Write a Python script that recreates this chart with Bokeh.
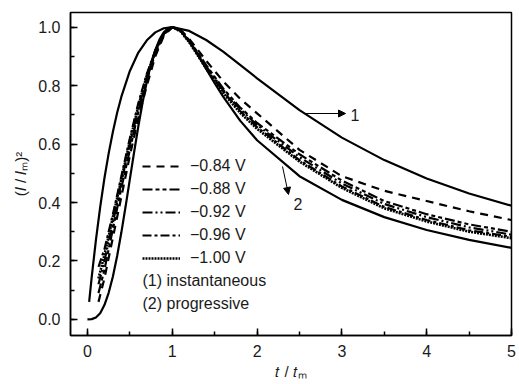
from bokeh.plotting import figure
from bokeh.models import (Range1d, SingleIntervalTicker, Label, Legend, LegendItem,
                          Arrow, NormalHead, CustomJSTickFormatter)
from bokeh.embed import file_html
from bokeh.resources import INLINE

# ---------------- data ----------------
t_inst = [0.02, 0.05, 0.1, 0.15, 0.2, 0.25, 0.3, 0.35, 0.4, 0.5, 0.6, 0.7, 0.8, 0.9, 1.0,
          1.2, 1.4, 1.6, 1.8, 2.0, 2.5, 3.0, 3.5, 4.0, 4.5, 5.0]
y_inst = [0.060, 0.145, 0.272, 0.384, 0.483, 0.568, 0.642, 0.707, 0.762, 0.850, 0.913, 0.955,
          0.982, 0.996, 1.000, 0.987, 0.956, 0.916, 0.871, 0.825, 0.716, 0.622, 0.545, 0.482,
          0.431, 0.389]

t_prog = [0.0, 0.05, 0.1, 0.15, 0.2, 0.25, 0.3, 0.35, 0.4, 0.45, 0.5, 0.55, 0.6, 0.65, 0.7,
          0.75, 0.8, 0.85, 0.9, 0.95, 1.0, 1.05, 1.1, 1.2, 1.3, 1.4, 1.5, 1.6, 1.8, 2.0, 2.5,
          3.0, 3.5, 4.0, 4.5, 5.0]
y_prog = [0.0, 0.001, 0.0065, 0.021, 0.049, 0.091, 0.147, 0.217, 0.298, 0.387, 0.480, 0.572,
          0.661, 0.742, 0.814, 0.874, 0.922, 0.958, 0.982, 0.996, 1.000, 0.996, 0.986, 0.952,
          0.907, 0.857, 0.808, 0.762, 0.680, 0.613, 0.490, 0.409, 0.350, 0.306, 0.272, 0.245]

t_exp = [0.13, 0.2, 0.3, 0.4, 0.5, 0.6, 0.7, 0.8, 0.9, 1.0, 1.1, 1.2, 1.4, 1.6, 1.8, 2.0,
         2.5, 3.0, 3.5, 4.0, 4.5, 5.0]
y_084 = [0.06, 0.14, 0.28, 0.42, 0.56, 0.69, 0.80, 0.90, 0.97, 1.0, 0.990, 0.960, 0.885,
         0.815, 0.755, 0.705, 0.580, 0.490, 0.440, 0.405, 0.370, 0.340]
y_088 = [0.09, 0.17, 0.31, 0.45, 0.58, 0.71, 0.82, 0.91, 0.975, 1.0, 0.990, 0.955, 0.870,
         0.790, 0.725, 0.672, 0.565, 0.475, 0.405, 0.360, 0.325, 0.300]
y_092 = [0.12, 0.20, 0.33, 0.47, 0.60, 0.72, 0.83, 0.915, 0.977, 1.0, 0.988, 0.952, 0.866,
         0.785, 0.720, 0.665, 0.555, 0.465, 0.395, 0.350, 0.315, 0.290]
y_096 = [0.18, 0.24, 0.36, 0.49, 0.62, 0.74, 0.84, 0.920, 0.980, 1.0, 0.986, 0.950, 0.862,
         0.780, 0.713, 0.658, 0.545, 0.455, 0.385, 0.340, 0.305, 0.283]
y_100 = [0.14, 0.22, 0.35, 0.48, 0.61, 0.73, 0.835, 0.918, 0.978, 1.0, 0.985, 0.948, 0.858,
         0.775, 0.707, 0.652, 0.540, 0.450, 0.380, 0.335, 0.300, 0.278]

series_labels = ["\u22120.84 V", "\u22120.88 V", "\u22120.92 V", "\u22120.96 V", "\u22121.00 V"]
series_values = [y_084, y_088, y_092, y_096, y_100]
note_labels = ["(1) instantaneous", "(2) progressive"]
x_label = "\U0001D461 / \U0001D461\u2098"          # t / t_m (math italic t)
y_label = "(\U0001D43C / \U0001D43C\u2098)\u00B2"  # (I / I_m)^2 (math italic I)
x_ticks_interval = 1
y_ticks_interval = 0.2

# ---------------- figure ----------------
FONT = "Liberation Sans"
X0, X1, Y0, Y1 = -0.2, 5.0, -0.055, 1.05
FL, FR, FT, FB = 70, 511, 12, 335
W, H = 519, 384

p = figure(width=W, height=H, output_backend="svg", toolbar_location=None,
           x_range=Range1d(X0, X1), y_range=Range1d(Y0, Y1),
           min_border_left=FL, min_border_right=W - FR,
           min_border_top=FT, min_border_bottom=H - FB)
p.grid.visible = False
p.outline_line_color = "black"
p.outline_line_width = 1.5
p.background_fill_color = "white"
p.border_fill_color = "white"

for ax, interval in ((p.xaxis[0], x_ticks_interval), (p.yaxis[0], y_ticks_interval)):
    ax.ticker = SingleIntervalTicker(interval=interval, num_minor_ticks=2)
    ax.major_tick_in = 7
    ax.major_tick_out = 0
    ax.minor_tick_in = 4
    ax.minor_tick_out = 0
    ax.axis_line_width = 1.5
    ax.major_tick_line_width = 1.5
    ax.minor_tick_line_width = 1.5
    ax.major_label_text_font = FONT
    ax.major_label_text_font_size = "16px"
    ax.major_label_text_color = "#1a1a1a"
    ax.axis_label_text_font = FONT
    ax.axis_label_text_font_size = "15px"
    ax.axis_label_text_font_style = "normal"
    ax.axis_label_text_color = "#1a1a1a"
p.yaxis[0].major_label_standoff = 10
p.xaxis[0].major_label_standoff = 9
p.yaxis[0].formatter = CustomJSTickFormatter(code="return tick.toFixed(1);")
p.xaxis[0].axis_label = x_label
p.yaxis[0].axis_label = y_label
p.xaxis[0].axis_label_standoff = 3
p.yaxis[0].axis_label_standoff = 6

# theoretical curves
p.line(t_inst, y_inst, line_color="black", line_width=2.2)
p.line(t_prog, y_prog, line_color="black", line_width=2.2)

dashes = ["8 6", "10 3 4 3 4 3", "10 3 2 3 2 3", "9 3 3 3", "2 1"]
widths = [2.2, 2.2, 2.2, 2.2, 2.6]
items = []
for lab, ys, dsh, w in zip(series_labels, series_values, dashes, widths):
    r = p.line(t_exp, ys, line_color="black", line_width=w, line_dash=dsh)
    items.append(LegendItem(label=lab, renderers=[r]))

legend = Legend(items=items, location=(142 - FL, FB - 268), padding=0, spacing=3,
                glyph_width=38, glyph_height=20, label_height=20, label_standoff=10,
                label_text_font=FONT, label_text_font_size="16px", label_text_color="#1a1a1a",
                border_line_color=None, background_fill_alpha=0)
p.add_layout(legend, "center")


def dx(px):
    return X0 + (px - FL) * (X1 - X0) / (FR - FL)


def dy(py):
    return Y1 - (py - FT) * (Y1 - Y0) / (FB - FT)


for txt, py in zip(note_labels, [280, 303]):
    p.add_layout(Label(x=dx(142), y=dy(py), text=txt, text_font=FONT, text_font_size="16px",
                       text_color="#1a1a1a", text_baseline="middle", text_align="left"))

# curve annotations
p.add_layout(Arrow(end=NormalHead(size=7, fill_color="black", line_color="black"),
                   x_start=dx(305), y_start=dy(113), x_end=dx(345), y_end=dy(113),
                   line_color="black", line_width=1))
p.add_layout(Label(x=dx(350), y=dy(114), text="1", text_font=FONT, text_font_size="16px",
                   text_color="#1a1a1a", text_baseline="middle"))
p.add_layout(Arrow(end=NormalHead(size=7, fill_color="black", line_color="black"),
                   x_start=dx(282), y_start=dy(166), x_end=dx(288), y_end=dy(194),
                   line_color="black", line_width=1))
p.add_layout(Label(x=dx(293), y=dy(203), text="2", text_font=FONT, text_font_size="16px",
                   text_color="#1a1a1a", text_baseline="middle"))

open("out.html", "w").write(file_html(p, INLINE))
